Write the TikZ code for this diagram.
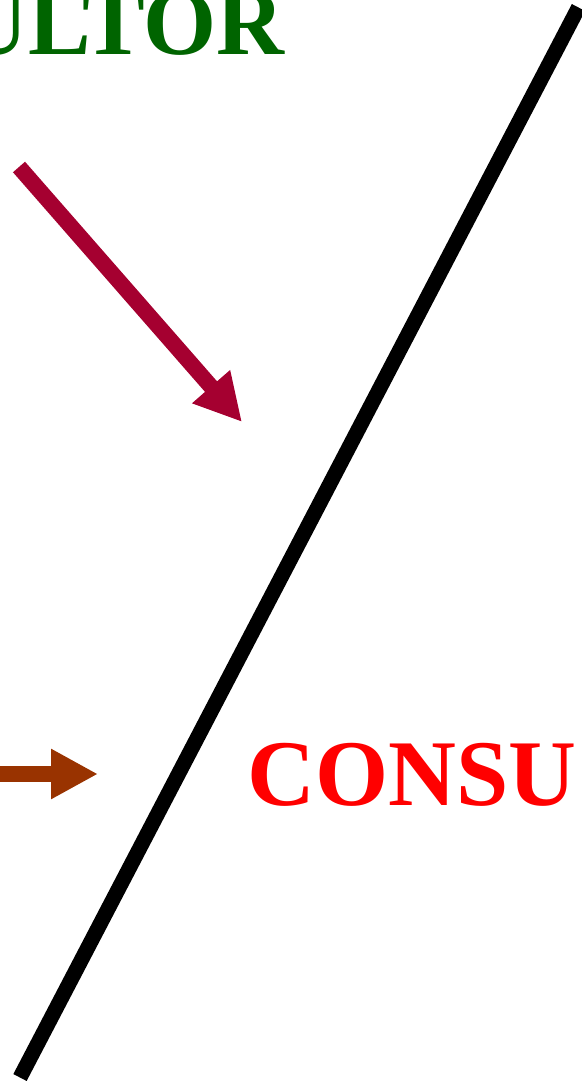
\documentclass[tikz,border=0pt]{standalone}
\usepackage{fontspec}
\setmainfont{Liberation Serif}
\usetikzlibrary{arrows.meta,positioning}
\definecolor{farmgreen}{HTML}{006400}
\definecolor{crimsonred}{HTML}{A50030}
\definecolor{rustbrown}{HTML}{993300}
\tikzset{
  bigword/.style={inner sep=0pt,font=\fontsize{94}{94}\selectfont\bfseries},
  fatarrow/.style={line width=16pt,-{Triangle[length=47pt,width=47pt]}},
}

\begin{document}
\begin{tikzpicture}[x=1pt,y=-1pt]
  \useasboundingbox (0,0) rectangle (581,1083);
  % diagonal divider
  \coordinate (divtop) at (578.5,7.5);
  \coordinate (divbot) at (20,1077.5);
  \draw[line width=15pt] (divbot) -- (divtop);
  % labels
  \node[bigword, text=farmgreen, anchor=base east] (farmer) at (285,55) {ULTOR};
  \node[bigword, text=red, anchor=base west] (consumer) at (247,805) {CONSU};
  % arrows
  \coordinate (redstart) at (19,167);
  \coordinate (redtip) at (242,422);
  \draw[fatarrow, draw=crimsonred, fill=crimsonred] (redstart) -- (redtip);
  \coordinate (brownstart) at (-5,774);
  \coordinate (browntip) at (98,774);
  \draw[fatarrow, draw=rustbrown, fill=rustbrown] (brownstart) -- (browntip);
\end{tikzpicture}
\end{document}
